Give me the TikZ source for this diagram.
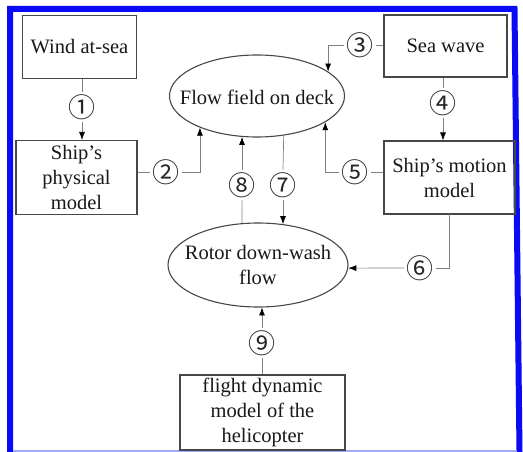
\documentclass[tikz,border=0pt]{standalone}
\usepackage{fontspec}
\setmainfont{Liberation Serif}
\newfontfamily\circfont{Noto Sans CJK SC}
\usetikzlibrary{shapes.geometric,arrows.meta}
\definecolor{frameblue}{RGB}{10,10,245}
\definecolor{framelight}{RGB}{160,170,250}
\begin{document}
\begin{tikzpicture}[x=1pt,y=-1pt,
  txt/.style={align=center,font=\fontsize{20.5}{25}\selectfont,text=black!90,inner sep=0pt},
  box/.style={txt,draw=black!72,line width=1.1pt,rectangle},
  oval/.style={draw=black!72,line width=1.1pt,ellipse,inner sep=0pt},
  num/.style={font=\circfont\fontsize{27}{27}\selectfont,inner sep=2.5pt,text=black!85},
  con/.style={draw=black!50,line width=0.7pt},
  arr/.style={con,-{Latex[length=8pt,width=6pt,black]}}]
\useasboundingbox (0,0) rectangle (523,452);
\fill[white] (0,0) rectangle (523,452);
% frame
\draw[frameblue,line width=6pt] (10,452) -- (10,9) -- (514.5,9) -- (519.5,452);
\draw[framelight,line width=1.5pt] (13,451.2) -- (517,451.2);
% boxes
\node[box,minimum width=113.5pt,minimum height=63pt] (wind) at (79.5,47) {Wind at-sea};
\node[box,minimum width=123pt,minimum height=62pt] (sea) at (445.5,46) {Sea wave};
\node[box,minimum width=121pt,minimum height=74pt] (phys) at (76.5,177.5) {Ship's\\physical\\model};
\node[box,minimum width=131pt,minimum height=73pt] (motion) at (449.5,177.5) {Ship's motion\\model};
\node[box,minimum width=165pt,minimum height=75pt] (flight) at (262.5,412.5) {flight dynamic\\model of the\\helicopter};
% ellipses
\node[oval,minimum width=175pt,minimum height=82pt] (flow) at (257,96) {};
\node[txt] (flowtext) at (257,97) {Flow field on deck};
\node[oval,minimum width=180pt,minimum height=84pt] (rotor) at (258,265) {};
\node[txt] (rotortext) at (258,265) {Rotor down-wash\\flow};
% numbers
\node[num] (n1) at (82,107) {①};
\node[num] (n2) at (166,172) {②};
\node[num] (n3) at (360,45) {③};
\node[num] (n4) at (443,103) {④};
\node[num] (n5) at (355,172) {⑤};
\node[num] (n6) at (420,268) {⑥};
\node[num] (n7) at (283,185) {⑦};
\node[num] (n8) at (242,185) {⑧};
\node[num] (n9) at (262,343) {⑨};
% connectors
\draw[con] (n1.north) -- (n1.north |- wind.south);
\draw[arr] (n1.south) -- (n1.south |- phys.north);
\draw[con] (phys.east |- n2.west) -- (n2.west);
\draw[arr] (n2.east) -| (flow.-151.4);
\draw[con] (sea.west |- n3.east) -- (n3.east);
\draw[arr] (n3.west) -| (flow.19.4);
\draw[con] (n4.north) -- (n4.north |- sea.south);
\draw[arr] (n4.south) -- (n4.south |- motion.north);
\draw[con] (motion.west |- n5.east) -- (n5.east);
\draw[arr] (n5.west) -| (flow.-21.5);
\draw[con] (449,214) |- (n6.east);
\draw[arr] (n6.west) -- (rotor.-2);
\draw[con] (flow.-56.4) -- (n7.north);
\draw[arr] (n7.south) -- (n7.south |- rotor.58.2);
\draw[con] (rotor.111.2) -- (n8.south);
\draw[arr] (n8.north) -- (n8.north |- flow.-110.4);
\draw[con] (n9.south) -- (n9.south |- flight.north);
\draw[arr] (n9.north) -- (n9.north |- rotor.-84.6);
\end{tikzpicture}
\end{document}
